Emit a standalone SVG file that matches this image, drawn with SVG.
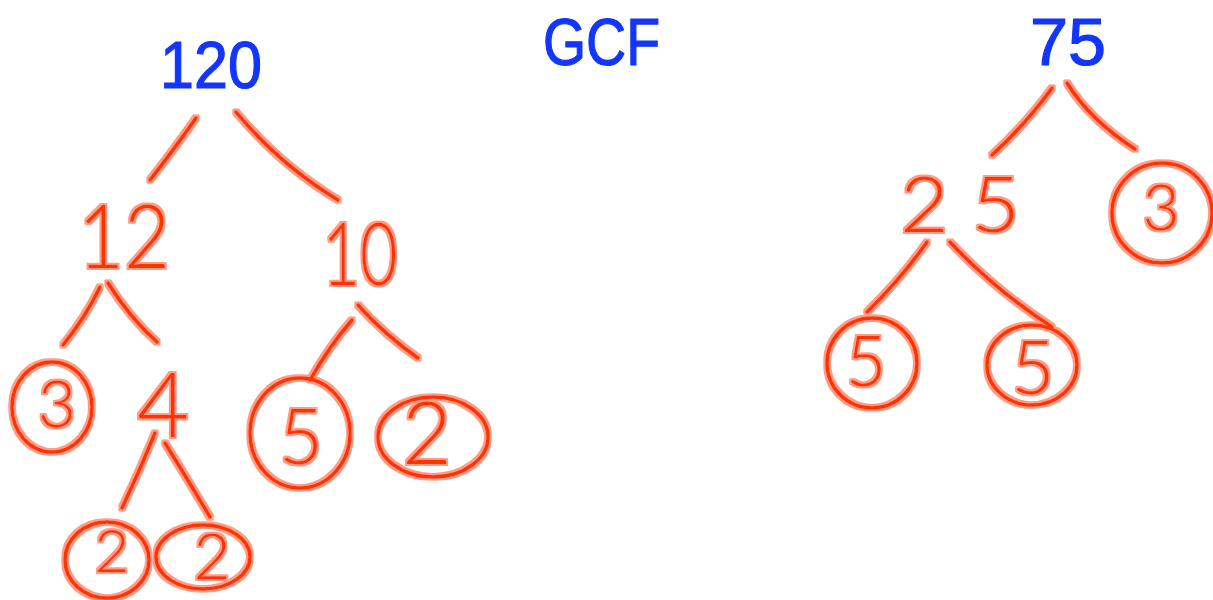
<svg xmlns="http://www.w3.org/2000/svg" width="1213" height="600" viewBox="0 0 1213 600">
<defs>
<filter id="halo" x="-10%" y="-10%" width="120%" height="120%">
<feMorphology in="SourceAlpha" operator="dilate" radius="1.6" result="d"/>
<feFlood flood-color="#ff9c85"/>
<feComposite in2="d" operator="in" result="h"/>
<feMerge><feMergeNode in="h"/><feMergeNode in="SourceGraphic"/></feMerge>
</filter>
<style>
.blue{font-family:"Liberation Sans",Arial,sans-serif;fill:#1236ff;font-size:66px;stroke:#1236ff;stroke-width:1.2}
.red{font-family:Lato,"Liberation Sans",Arial,sans-serif;font-weight:300;fill:#ff3300;text-anchor:middle}
.ln{fill:none;stroke:#ff3300;stroke-width:3.5;stroke-linecap:round}
.ring{fill:none;stroke:#ff3300;stroke-width:3.5}
</style>
</defs>
<rect width="1213" height="600" fill="#ffffff"/>
<g id="title-gcf"><text class="blue" x="543" y="65" textLength="117" lengthAdjust="spacingAndGlyphs">GCF</text></g>
<g id="n120"><text class="blue" x="160" y="88" textLength="102" lengthAdjust="spacingAndGlyphs">120</text></g>
<g id="n75"><text class="blue" x="1030" y="65" textLength="76" lengthAdjust="spacingAndGlyphs">75</text></g>
<g filter="url(#halo)">
<g id="connectors">
<path class="ln" d="M196,118 Q175,148 150,180"/>
<path class="ln" d="M236,112 Q280,165 338,200"/>
<path class="ln" d="M100,287 Q85,318 63,345"/>
<path class="ln" d="M108,283 Q130,318 157,342"/>
<path class="ln" d="M155,433 Q140,470 122,508"/>
<path class="ln" d="M165,443 Q188,480 210,517"/>
<path class="ln" d="M352,320 Q330,345 310,380"/>
<path class="ln" d="M358,305 Q385,335 418,358"/>
<path class="ln" d="M1052,88 Q1025,125 992,155"/>
<path class="ln" d="M1067,83 Q1090,120 1135,149"/>
<path class="ln" d="M927,242 Q900,280 867,312"/>
<path class="ln" d="M950,242 Q995,290 1052,327"/>
</g>
<g id="n12"><text class="red" x="124" y="268" font-size="88" textLength="92" lengthAdjust="spacingAndGlyphs">12</text></g>
<g id="n10"><text class="red" x="360" y="285" font-size="86" textLength="75" lengthAdjust="spacingAndGlyphs">10</text></g>
<g id="n3a"><ellipse class="ring" cx="52" cy="407" rx="40" ry="45"/><text class="red" x="57" y="427" font-size="66">3</text></g>
<g id="n4"><text class="red" x="163" y="437" font-size="90">4</text></g>
<g id="n2a"><ellipse class="ring" cx="107" cy="560" rx="42" ry="38"/><text class="red" x="112" y="572" font-size="60">2</text></g>
<g id="n2b"><ellipse class="ring" cx="203" cy="557" rx="47" ry="32"/><text class="red" x="212" y="579" font-size="64">2</text></g>
<g id="n5a"><ellipse class="ring" cx="300" cy="433" rx="50" ry="55"/><text class="red" x="301" y="464" font-size="76">5</text></g>
<g id="n2c"><ellipse class="ring" cx="433" cy="437" rx="55" ry="40"/><text class="red" x="427" y="464" font-size="86">2</text></g>
<g id="n25"><text class="red" x="960" y="232" font-size="76" textLength="120" lengthAdjust="spacingAndGlyphs">2 5</text></g>
<g id="n3b"><ellipse class="ring" cx="1162" cy="213" rx="50" ry="50"/><text class="red" x="1161" y="230" font-size="64">3</text></g>
<g id="n5b"><ellipse class="ring" cx="872" cy="363" rx="45" ry="45"/><text class="red" x="866" y="386" font-size="70">5</text></g>
<g id="n5c"><ellipse class="ring" cx="1032" cy="365" rx="45" ry="40"/><text class="red" x="1033" y="394" font-size="74">5</text></g>
</g>
</svg>
